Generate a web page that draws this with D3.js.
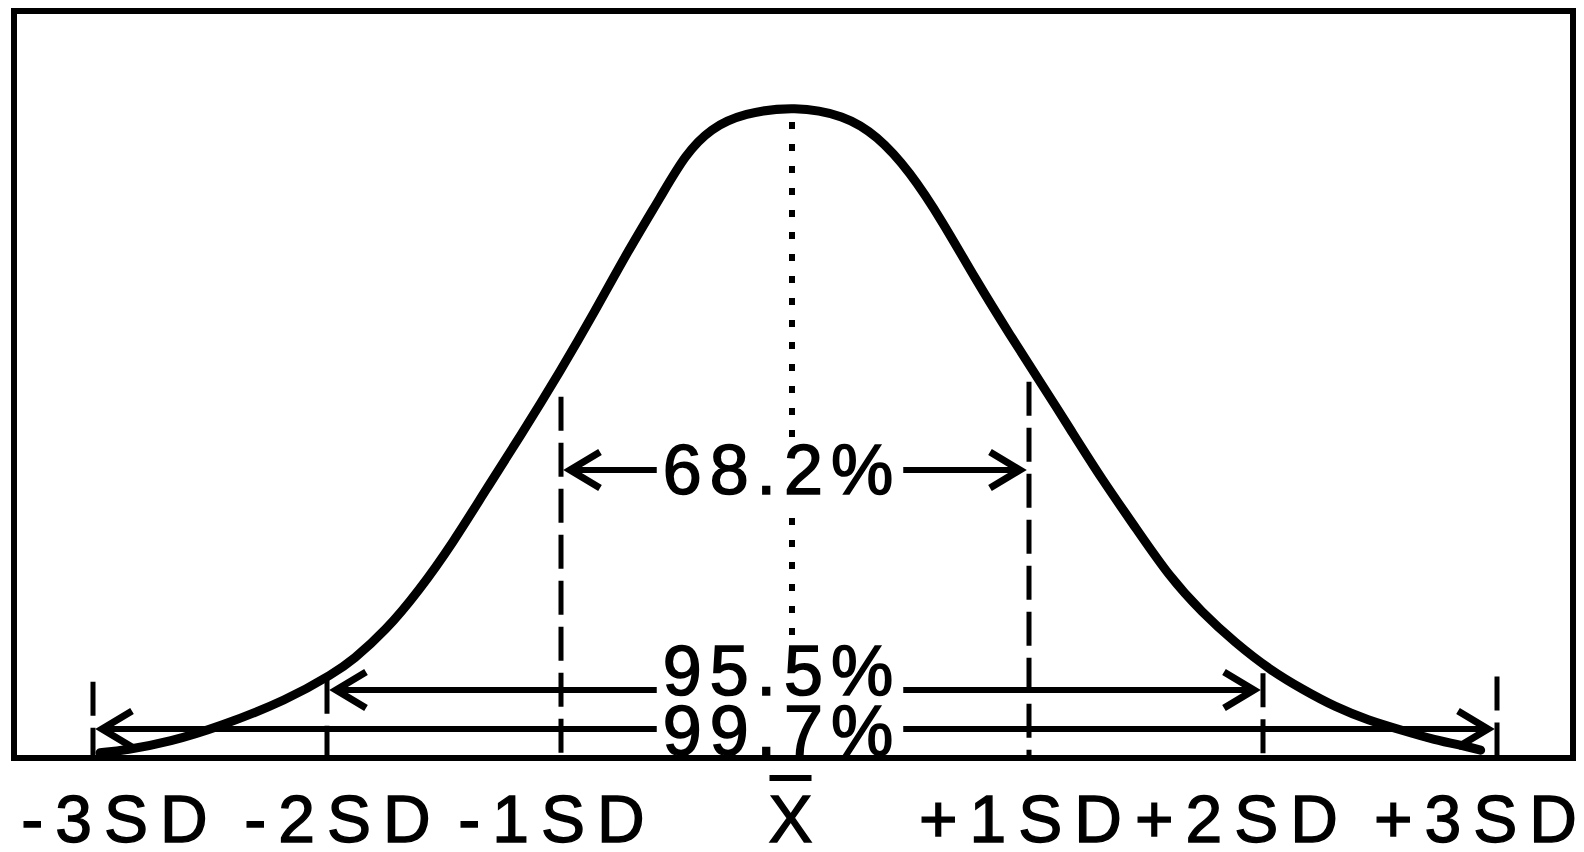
<!DOCTYPE html>
<html>
<head>
<meta charset="utf-8">
<script src="https://cdn.jsdelivr.net/npm/d3@7"></script>
<style>
  html, body { margin: 0; padding: 0; background: #fff; }
  svg { display: block; }
</style>
</head>
<body>
<svg width="1584" height="852"></svg>
<script>
// positions along the axis, in standard deviations
const sdSteps = [-3, -2, -1, 0, 1, 2, 3];
const axisLabels = ["-3SD", "-2SD", "-1SD", "X", "+1SD", "+2SD", "+3SD"];

// curve: x in SD, height relative to the peak
const curveSd = [
  -2.97, -2.86, -2.67, -2.46, -2.17, -1.97, -1.89, -1.75, -1.61, -1.46,
  -1.32, -1.18, -1.0, -0.855, -0.715, -0.57, -0.47, -0.36, -0.22, 0,
  0.21, 0.35, 0.49, 0.63, 0.77, 0.92, 1.06, 1.17, 1.31, 1.46,
  1.6, 1.74, 1.88, 2.03, 2.17, 2.31, 2.45, 2.59, 2.73, 2.88, 2.93,
];
const curveHeight = [
  0.008, 0.012, 0.025, 0.048, 0.089, 0.13, 0.15, 0.195, 0.255, 0.331,
  0.412, 0.49, 0.595, 0.685, 0.777, 0.863, 0.925, 0.966, 0.989, 1.0,
  0.986, 0.955, 0.9, 0.823, 0.735, 0.648, 0.57, 0.508, 0.428, 0.351,
  0.278, 0.223, 0.177, 0.135, 0.105, 0.078, 0.058, 0.043, 0.028, 0.017, 0.012,
];

// dashed guides and where they start (relative height)
const guideSd = [-3, -2, -1, 1, 2, 3];
const guideTop = [0.117, 0.12, 0.554, 0.577, 0.13, 0.125];

// the three bands
const bandNames = ["68.2%", "95.5%", "99.7%"];
const bandSd = [1, 2, 3];

// layout
const BOX = { left: 14, top: 11, right: 1573, bottom: 758 };
const PEAK_Y = 106;
const BAND_ARROW_Y = [470, 690, 729];
const BAND_TEXT_Y = [494, 695, 755];
const LABEL_Y = 842;
const LABEL_LS = 12;
const LABEL_NUDGE = [27, 16, -4, 1, -3, -21, -16];
const FONT = "'Liberation Sans', Arial, Helvetica, sans-serif";

const svg = d3.select("svg");

const x = d3.scaleLinear().domain([-3, 3]).range([93, 1497]);
const y = d3.scaleLinear().domain([0, 1]).range([BOX.bottom, PEAK_Y]);

// dashed sd guides
svg
  .append("g")
  .selectAll("line")
  .data(guideSd)
  .enter()
  .append("line")
  .attr("x1", (d) => x(d))
  .attr("x2", (d) => x(d))
  .attr("y1", (d, i) => y(guideTop[i]))
  .attr("y2", BOX.bottom)
  .attr("stroke", "#000")
  .attr("stroke-width", 5)
  .attr("stroke-dasharray", "34,12");

// dotted mean line
svg
  .append("line")
  .attr("x1", x(0) - 3)
  .attr("x2", x(0) - 3)
  .attr("y1", PEAK_Y + 16)
  .attr("y2", 640)
  .attr("stroke", "#000")
  .attr("stroke-width", 6)
  .attr("stroke-dasharray", "7,15");

// the curve
const pts = curveSd.map((d, i) => [d, curveHeight[i]]);
svg
  .append("path")
  .datum(pts)
  .attr("fill", "none")
  .attr("stroke", "#000")
  .attr("stroke-width", 9)
  .attr("stroke-linecap", "round")
  .attr(
    "d",
    d3
      .line()
      .x((d) => x(d[0]))
      .y((d) => y(d[1]))
      .curve(d3.curveBasis)
  );

// band arrows
const HEAD_L = 30;
const HEAD_H = 18;
const INSET = 9;
const bands = svg
  .append("g")
  .selectAll("g")
  .data(bandSd)
  .enter()
  .append("g");

bands
  .append("line")
  .attr("x1", (d) => x(-d) + INSET)
  .attr("x2", (d) => x(d) - INSET)
  .attr("y1", (d, i) => BAND_ARROW_Y[i])
  .attr("y2", (d, i) => BAND_ARROW_Y[i])
  .attr("stroke", "#000")
  .attr("stroke-width", 6);

bands
  .append("path")
  .attr("fill", "none")
  .attr("stroke", "#000")
  .attr("stroke-width", 7)
  .attr("d", (d, i) => {
    const yy = BAND_ARROW_Y[i];
    const l = x(-d) + INSET;
    const r = x(d) - INSET;
    return (
      `M${l + HEAD_L},${yy - HEAD_H}L${l},${yy}L${l + HEAD_L},${yy + HEAD_H}` +
      `M${r - HEAD_L},${yy - HEAD_H}L${r},${yy}L${r - HEAD_L},${yy + HEAD_H}`
    );
  });

const bandText = bands
  .append("text")
  .attr("x", x(0) - 13)
  .attr("y", (d, i) => BAND_TEXT_Y[i])
  .attr("text-anchor", "middle")
  .attr("font-family", FONT)
  .attr("font-size", 70)
  .attr("letter-spacing", 8)
  .attr("fill", "#000")
  .attr("stroke", "#000")
  .attr("stroke-width", 1.6)
  .text((d, i) => bandNames[i]);

// white knock-out behind each band label
bandText.each(function () {
  const b = this.getBBox();
  d3.select(this.parentNode)
    .insert("rect", "text")
    .attr("x", b.x - 6)
    .attr("y", b.y + 8)
    .attr("width", b.width + 8)
    .attr("height", b.height - 14)
    .attr("fill", "#fff");
});

// frame
svg
  .append("rect")
  .attr("x", BOX.left)
  .attr("y", BOX.top)
  .attr("width", BOX.right - BOX.left)
  .attr("height", BOX.bottom - BOX.top)
  .attr("fill", "none")
  .attr("stroke", "#000")
  .attr("stroke-width", 6);

// axis labels
const axis = svg
  .append("g")
  .attr("transform", `translate(0,${LABEL_Y})`)
  .call(
    d3
      .axisBottom(x)
      .tickValues(sdSteps)
      .tickSize(0)
      .tickPadding(0)
      .tickFormat((d, i) => axisLabels[i])
  );
axis.select(".domain").remove();
axis
  .selectAll("text")
  .attr("y", 0)
  .attr("dy", 0)
  .attr("dx", (d, i) => LABEL_NUDGE[i])
  .attr("font-family", FONT)
  .attr("font-size", 66)
  .attr("letter-spacing", LABEL_LS)
  .attr("fill", "#000")
  .attr("stroke", "#000")
  .attr("stroke-width", 1.4);

// bar over the X for the mean
axis
  .selectAll("text")
  .filter((d) => d === 0)
  .each(function () {
    const b = this.getBBox();
    d3.select(this.parentNode)
      .append("line")
      .attr("x1", b.x + 1)
      .attr("x2", b.x + b.width - LABEL_LS - 1)
      .attr("y1", -64)
      .attr("y2", -64)
      .attr("stroke", "#000")
      .attr("stroke-width", 6);
  });
</script>
</body>
</html>
